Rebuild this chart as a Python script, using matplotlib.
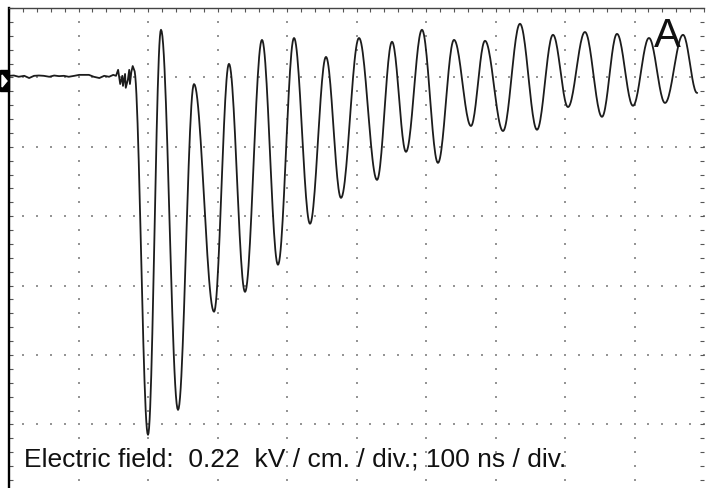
import numpy as np
import matplotlib.pyplot as plt
from matplotlib.patches import Rectangle, Polygon

# scope settings
NS_PER_DIV = 100
KV_PER_DIV = 0.22

# pre-trigger baseline (time in ns, field in kV/cm)
pre_t = [0, 7, 14, 22, 29, 36, 43, 50, 58, 65, 72, 79, 86, 94, 101, 108,
         115, 122, 130, 137, 144, 150, 154, 157, 160, 163, 164, 167, 168,
         171, 173, 174, 176, 178, 180]
pre_e = [0.005, 0.006, 0.002, 0.005, -0.002, 0.005, 0.006, 0.005, 0.002,
         0.006, 0.004, 0.005, 0.002, 0.005, 0.008, 0.008, 0.008, 0.002,
         -0.002, 0.005, 0.002, 0.008, 0.005, 0.024, -0.021, 0.005, -0.027,
         0.011, -0.033, -0.008, 0.024, -0.021, 0.017, 0.036, 0.024]

# turning points of the ringing after the trigger
ring_t = [200.0, 218.7, 243.2, 266.2, 295.0, 316.5, 339.6, 364.0, 387.0,
          410.1, 433.1, 456.1, 477.7, 503.6, 529.5, 551.1, 571.2, 594.2,
          617.2, 640.3, 664.7, 684.9, 710.8, 735.2, 759.7, 782.7, 804.3,
          828.7, 853.2, 874.8, 897.8, 920.8, 943.9, 969.8, 989.9]
ring_e = [-1.133, 0.151, -1.054, -0.021, -0.743, 0.043, -0.680, 0.119,
          -0.594, 0.125, -0.464, 0.065, -0.382, 0.125, -0.325, 0.113,
          -0.236, 0.151, -0.271, 0.119, -0.154, 0.116, -0.170, 0.170,
          -0.166, 0.135, -0.094, 0.144, -0.125, 0.138, -0.090, 0.125,
          -0.081, 0.135, -0.049]


def swing(ts, es, n=24):
    # join turning points with half-cosine strokes
    out_t, out_e = [], []
    for i in range(len(ts) - 1):
        s = np.linspace(0, 1, n, endpoint=False)
        w = (1 - np.cos(np.pi * s)) / 2
        out_t.extend(ts[i] + (ts[i + 1] - ts[i]) * s)
        out_e.extend(es[i] + (es[i + 1] - es[i]) * w)
    out_t.append(ts[-1])
    out_e.append(es[-1])
    return out_t, out_e


st, se = swing([pre_t[-1]] + ring_t, [pre_e[-1]] + ring_e)
trace_t = pre_t[:-1] + list(st)
trace_e = pre_e[:-1] + list(se)

W, H = 707, 488
div_px = 69.4
fig = plt.figure(figsize=(W / 100, H / 100), dpi=100)
ax = fig.add_axes([9 / W, 0, 695 / W, 480 / H])
ymax = KV_PER_DIV
ymin = KV_PER_DIV - 480 / div_px * KV_PER_DIV

# dotted graticule
minor_t = np.arange(0, 10 * NS_PER_DIV + 1, NS_PER_DIV / 5)
minor_e = KV_PER_DIV - np.arange(0, 7 * 5) * KV_PER_DIV / 5
minor_e = minor_e[minor_e > ymin]
dot_kw = dict(s=1.4, marker='s', color='#959595', linewidths=0, zorder=1)
for k in range(1, 10):
    ax.scatter(np.full(len(minor_e), k * NS_PER_DIV), minor_e, **dot_kw)
for k in range(1, 7):
    ax.scatter(minor_t, np.full(len(minor_t), KV_PER_DIV - k * KV_PER_DIV), **dot_kw)

ax.plot(trace_t, trace_e, color='#1c1c1c', lw=1.3, zorder=3)

# frame and tick marks
for side in ['right', 'bottom']:
    ax.spines[side].set_visible(False)
ax.spines['left'].set_linewidth(1.7)
ax.spines['left'].set_color('black')
ax.spines['top'].set_linewidth(1.0)
ax.spines['top'].set_color('#444444')
ax.set_xticks(minor_t)
ax.set_yticks(minor_e)
ax.tick_params(axis='x', top=True, bottom=False, direction='in', length=3,
               width=0.8, color='#555555', labeltop=False, labelbottom=False)
ax.tick_params(axis='y', left=True, right=True, direction='in', length=3,
               width=0.8, color='#555555', labelleft=False, labelright=False)
ax.set_xlim(0, 10 * NS_PER_DIV)
ax.set_ylim(ymin, ymax)

# channel ground marker
fig.patches.append(Rectangle((0, 1 - 91 / H), 9 / W, 21 / H, color='black',
                             transform=fig.transFigure, figure=fig))
fig.patches.append(Polygon([(2 / W, 1 - 75 / H), (2 / W, 1 - 87 / H),
                            (7 / W, 1 - 81 / H)], color='white',
                           transform=fig.transFigure, figure=fig))

fig.text(667 / W, 1 - 47 / H, 'A', fontsize=29, family='Liberation Sans',
         ha='center', va='baseline', color='#111111')
fig.text(24 / W, 1 - 467 / H,
         'Electric field:  0.22  kV / cm. / div.; 100 ns / div.',
         fontsize=19, family='Liberation Sans', ha='left', va='baseline',
         color='#111111')

fig.savefig('out.png', dpi=100, facecolor='white')
